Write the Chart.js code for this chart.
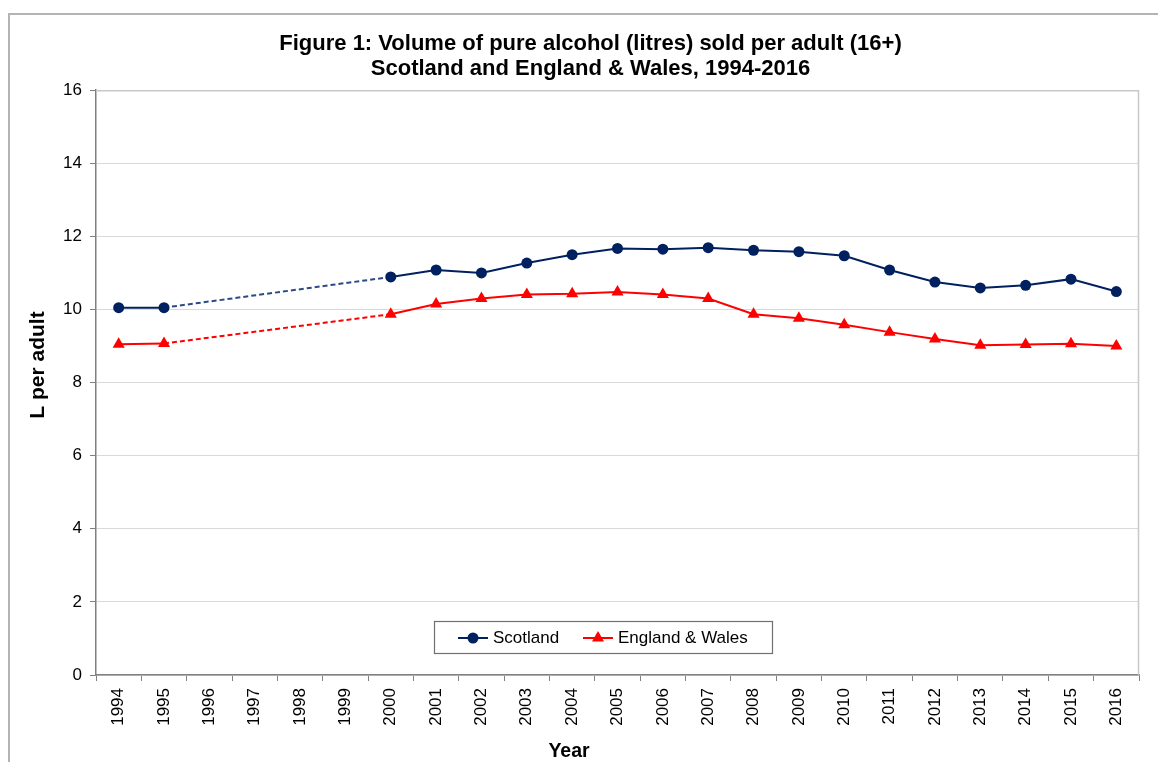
<!DOCTYPE html>
<html>
<head>
<meta charset="utf-8">
<script src="https://cdn.jsdelivr.net/npm/chart.js@4.4.1/dist/chart.umd.min.js"></script>
<style>
  body { margin: 0; background: #fff; }
  #wrap { width: 1158px; height: 762px; }
</style>
</head>
<body>
<div id="wrap"><canvas id="alcoholChart" width="1158" height="762"></canvas></div>
<script>
const years = ["1994", "1995", "1996", "1997", "1998", "1999", "2000", "2001", "2002", "2003", "2004", "2005",
  "2006", "2007", "2008", "2009", "2010", "2011", "2012", "2013", "2014", "2015", "2016"];
const scotland = [10.05, 10.05, null, null, null, null, 10.89, 11.08, 11.0, 11.27, 11.5, 11.67,
  11.65, 11.69, 11.62, 11.58, 11.47, 11.08, 10.75, 10.59, 10.66, 10.83, 10.49];
const englandWales = [9.05, 9.07, null, null, null, null, 9.87, 10.15, 10.3, 10.41, 10.43, 10.48,
  10.41, 10.3, 9.87, 9.76, 9.58, 9.38, 9.19, 9.02, 9.04, 9.06, 9.0];
const yTicks = [0, 2, 4, 6, 8, 10, 12, 14, 16];

const fontName = "'Liberation Sans', Arial, sans-serif";

// true when the segment jumps over missing years
function overGap(ctx) {
  const d = ctx.chart.data.datasets[ctx.datasetIndex].data;
  return d[ctx.p1DataIndex - 1] == null;
}

const frame = {
  id: "frame",
  beforeDraw(chart) {
    const c = chart.ctx;
    c.save();
    c.fillStyle = "#fff";
    c.fillRect(0, 0, chart.width, chart.height);
    c.strokeStyle = "#b4b4b4";
    c.lineWidth = 2;
    c.strokeRect(9, 14, chart.width + 20, chart.height + 20);
    c.restore();
  },
  beforeDatasetsDraw(chart) {
    const c = chart.ctx;
    const a = chart.chartArea;
    c.save();
    c.strokeStyle = "#c8c8c8";
    c.lineWidth = 1.5;
    c.beginPath();
    c.moveTo(a.left, a.top + 0.5);
    c.lineTo(a.right - 0.5, a.top + 0.5);
    c.lineTo(a.right - 0.5, a.bottom);
    c.stroke();
    c.restore();
  },
  afterDraw(chart) {
    const c = chart.ctx;
    c.save();
    c.fillStyle = "#000";
    c.font = "bold 19.5px " + fontName;
    c.textAlign = "center";
    c.textBaseline = "middle";
    c.fillText("Year", 569, 752);
    c.font = "bold 21px " + fontName;
    c.translate(38, 365);
    c.rotate(-Math.PI / 2);
    c.fillText("L per adult", 0, 0);
    c.restore();

    // legend box inside the plot
    const bx = 434, by = 621, bw = 338, bh = 32;
    c.save();
    c.fillStyle = "#fff";
    c.fillRect(bx, by, bw, bh);
    c.strokeStyle = "#707070";
    c.lineWidth = 1.2;
    c.strokeRect(bx + 0.5, by + 0.5, bw, bh);
    c.font = "17px " + fontName;
    c.textBaseline = "middle";
    c.textAlign = "left";
    const cy = by + bh / 2 + 1;
    const starts = [458, 583];
    chart.data.datasets.forEach((ds, i) => {
      const x0 = starts[i];
      c.strokeStyle = ds.borderColor;
      c.lineWidth = 2;
      c.beginPath();
      c.moveTo(x0, cy);
      c.lineTo(x0 + 30, cy);
      c.stroke();
      c.fillStyle = ds.pointBackgroundColor;
      Chart.helpers.drawPoint(c, { pointStyle: ds.pointStyle, radius: ds.pointRadius, borderWidth: 0 }, x0 + 15, cy);
      c.fillStyle = "#000";
      c.fillText(ds.label, x0 + 35, cy);
    });
    c.restore();
  }
};

new Chart(document.getElementById("alcoholChart"), {
  type: "line",
  data: {
    labels: years,
    datasets: [
      {
        label: "Scotland",
        data: scotland,
        borderColor: "#002060",
        backgroundColor: "#002060",
        pointBackgroundColor: "#002060",
        pointBorderColor: "#002060",
        pointStyle: "circle",
        pointRadius: 5.5,
        pointBorderWidth: 0,
        borderWidth: 2,
        tension: 0,
        spanGaps: true,
        segment: {
          borderDash: ctx => overGap(ctx) ? [5, 3] : undefined,
          borderColor: ctx => overGap(ctx) ? "#2c4a86" : undefined
        }
      },
      {
        label: "England & Wales",
        data: englandWales,
        borderColor: "#ff0000",
        backgroundColor: "#ff0000",
        pointBackgroundColor: "#ff0000",
        pointBorderColor: "#ff0000",
        pointStyle: "triangle",
        pointRadius: 7,
        pointBorderWidth: 0,
        borderWidth: 2,
        tension: 0,
        spanGaps: true,
        segment: {
          borderDash: ctx => overGap(ctx) ? [5, 3] : undefined
        }
      }
    ]
  },
  options: {
    responsive: false,
    animation: false,
    layout: { padding: { left: 42, right: 19, top: 0, bottom: 0 } },
    plugins: {
      legend: { display: false },
      tooltip: { enabled: false },
      title: {
        display: true,
        text: ["Figure 1: Volume of pure alcohol (litres) sold per adult (16+)", "Scotland and England & Wales, 1994-2016"],
        color: "#000",
        font: { family: fontName, size: 22, weight: "bold", lineHeight: 1.14 },
        padding: { top: 31, bottom: 9 }
      }
    },
    scales: {
      x: {
        offset: true,
        afterFit: s => { s.height = 87; },
        grid: { offset: true, drawOnChartArea: false, drawTicks: true, tickLength: 6, tickColor: "#808080" },
        border: { color: "#808080", width: 1.5 },
        ticks: {
          color: "#000",
          font: { family: fontName, size: 17 },
          minRotation: 90,
          maxRotation: 90,
          autoSkip: false,
          padding: 7
        }
      },
      y: {
        min: 0,
        max: 16,
        afterFit: s => { s.width = 54; },
        afterBuildTicks: s => { s.ticks = yTicks.map(v => ({ value: v })); },
        grid: { color: "#d9d9d9", tickLength: 6, tickColor: "#808080", lineWidth: 1 },
        border: { color: "#808080", width: 1.5 },
        ticks: {
          color: "#000",
          font: { family: fontName, size: 17 },
          padding: 8
        }
      }
    }
  },
  plugins: [frame]
});
</script>
</body>
</html>
